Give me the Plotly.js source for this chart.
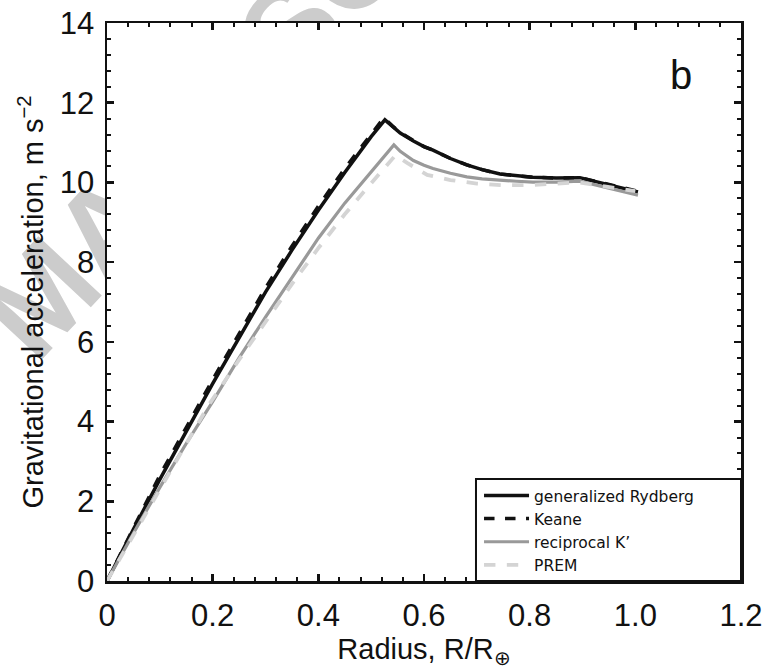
<!DOCTYPE html>
<html>
<head>
<meta charset="utf-8">
<script src="https://cdn.plot.ly/plotly-3.0.1.min.js"></script>
<style>
  html, body { margin: 0; padding: 0; background: #ffffff; }
  #wrap { position: relative; width: 781px; height: 670px; overflow: hidden; }
  #wm { position: absolute; left: 0; top: 0; z-index: 0; }
  #chart { position: absolute; left: 0; top: 0; z-index: 1; width: 781px; height: 670px; }
</style>
</head>
<body>
<div id="wrap">
  <svg id="wm" width="781" height="670">
    <text x="36" y="366" transform="rotate(-47 36 366)" font-size="126" font-weight="bold"
          fill="#cccccc" font-family="Liberation Sans, Arial, sans-serif">MANUSCRIPT</text>
  </svg>
  <div id="chart"></div>
</div>
<script>
// ---- data ----
const rydbergX = [0, 0.05, 0.1, 0.15, 0.2, 0.25, 0.3, 0.35, 0.4, 0.45, 0.5, 0.526, 0.54, 0.555, 0.58, 0.6, 0.617, 0.65, 0.681, 0.71, 0.744, 0.775, 0.806, 0.85, 0.895, 1.005];
const rydbergY = [0, 1.3, 2.55, 3.75, 4.95, 6.1, 7.25, 8.3, 9.3, 10.25, 11.15, 11.57, 11.40, 11.24, 11.04, 10.9, 10.81, 10.6, 10.44, 10.32, 10.21, 10.16, 10.13, 10.11, 10.12, 9.76];

const keaneX = [0, 0.05, 0.1, 0.15, 0.2, 0.25, 0.3, 0.35, 0.4, 0.45, 0.5, 0.524, 0.54, 0.555, 0.58, 0.6, 0.617, 0.65, 0.681, 0.71, 0.744, 0.775, 0.806, 0.85, 0.895, 1.005];
const keaneY = [0, 1.35, 2.65, 3.85, 5.05, 6.2, 7.35, 8.4, 9.4, 10.35, 11.22, 11.62, 11.42, 11.25, 11.05, 10.9, 10.81, 10.6, 10.44, 10.32, 10.21, 10.16, 10.13, 10.11, 10.12, 9.78];

const reciprocalX = [0, 0.05, 0.1, 0.15, 0.2, 0.25, 0.3, 0.35, 0.4, 0.45, 0.5, 0.543, 0.555, 0.58, 0.6, 0.617, 0.65, 0.681, 0.71, 0.744, 0.775, 0.806, 0.85, 0.895, 1.005];
const reciprocalY = [0, 1.2, 2.35, 3.45, 4.5, 5.6, 6.62, 7.6, 8.6, 9.48, 10.26, 10.94, 10.78, 10.55, 10.43, 10.35, 10.23, 10.14, 10.09, 10.05, 10.03, 10.01, 10.01, 10.03, 9.68];

const premX = [0, 0.05, 0.1, 0.15, 0.1917, 0.25, 0.3, 0.35, 0.4, 0.45, 0.5, 0.546, 0.568, 0.606, 0.65, 0.7, 0.75, 0.8, 0.85, 0.895, 1.0];
const premY = [0, 1.15, 2.3, 3.45, 4.40, 5.55, 6.5, 7.45, 8.35, 9.2, 9.98, 10.68, 10.49, 10.19, 10.06, 9.97, 9.93, 9.93, 9.97, 10.0, 9.78];

const seriesNames = ['generalized Rydberg', 'Keane', 'reciprocal K\u2019', 'PREM'];
const xTickVals = [0, 0.2, 0.4, 0.6, 0.8, 1.0, 1.2];
const xTickText = ['0', '0.2', '0.4', '0.6', '0.8', '1.0', '1.2'];
const yTickVals = [0, 2, 4, 6, 8, 10, 12, 14];
const yTickText = ['0', '2', '4', '6', '8', '10', '12', '14'];

const FONT = 'Liberation Sans, Arial, Helvetica, sans-serif';

const traces = [
  { x: rydbergX, y: rydbergY, name: seriesNames[0], mode: 'lines',
    line: { color: '#111111', width: 3.5 } },
  { x: keaneX, y: keaneY, name: seriesNames[1], mode: 'lines',
    line: { color: '#111111', width: 3.5, dash: 'dash' } },
  { x: reciprocalX, y: reciprocalY, name: seriesNames[2], mode: 'lines',
    line: { color: '#999999', width: 3.2 } },
  { x: premX, y: premY, name: seriesNames[3], mode: 'lines',
    line: { color: '#d4d4d4', width: 3.8, dash: 'dash' } }
];

const axisCommon = {
  showline: true, linecolor: '#111111', linewidth: 2.5, mirror: 'ticks',
  ticks: 'inside', ticklen: 7, tickwidth: 2.5, tickcolor: '#111111',
  showgrid: false, zeroline: false, fixedrange: true,
  tickfont: { family: FONT, size: 31, color: '#111111' }
};

const layout = {
  width: 781, height: 670,
  margin: { l: 107, r: 40, t: 23, b: 89, pad: 0 },
  paper_bgcolor: 'rgba(0,0,0,0)',
  plot_bgcolor: '#ffffff',
  font: { family: FONT, color: '#111111' },
  showlegend: true,
  xaxis: Object.assign({}, axisCommon, {
    range: [0, 1.2], tickmode: 'array', tickvals: xTickVals, ticktext: xTickText,
    ticklabelstandoff: 5,
    minor: { ticks: 'inside', ticklen: 4, tickwidth: 2, tickcolor: '#111111', dtick: 0.04, tick0: 0 },
    title: { text: 'Radius, R/R<sub>\u2295</sub>', font: { family: FONT, size: 29, color: '#111111' }, standoff: 0 }
  }),
  yaxis: Object.assign({}, axisCommon, {
    range: [0, 14], tickmode: 'array', tickvals: yTickVals, ticktext: yTickText,
    ticklabelstandoff: 4,
    minor: { ticks: 'inside', ticklen: 4, tickwidth: 2, tickcolor: '#111111', dtick: 0.4, tick0: 0 },
    title: { text: 'Gravitational acceleration, m s<sup>\u22122</sup>', font: { family: FONT, size: 29, color: '#111111' }, standoff: 8 }
  }),
  legend: {
    x: 0.5868, xanchor: 'left', y: 0.183, yanchor: 'top',
    bgcolor: 'rgba(0,0,0,0)', borderwidth: 0,
    font: { family: 'DejaVu Sans, sans-serif', size: 15.5, color: '#111111' },
    itemwidth: 45, tracegroupgap: 0
  },
  shapes: [
    { type: 'rect', xref: 'paper', yref: 'paper', x0: 0.582, x1: 1, y0: 0, y1: 0.183,
      line: { color: '#111111', width: 2 }, fillcolor: '#ffffff', layer: 'above' }
  ],
  annotations: [
    { text: 'b', xref: 'paper', yref: 'paper', x: 0.905, y: 0.907,
      xanchor: 'center', yanchor: 'middle', showarrow: false,
      font: { family: FONT, size: 40, color: '#111111' } }
  ]
};

Plotly.newPlot('chart', traces, layout, { displayModeBar: false, staticPlot: true });
</script>
</body>
</html>
